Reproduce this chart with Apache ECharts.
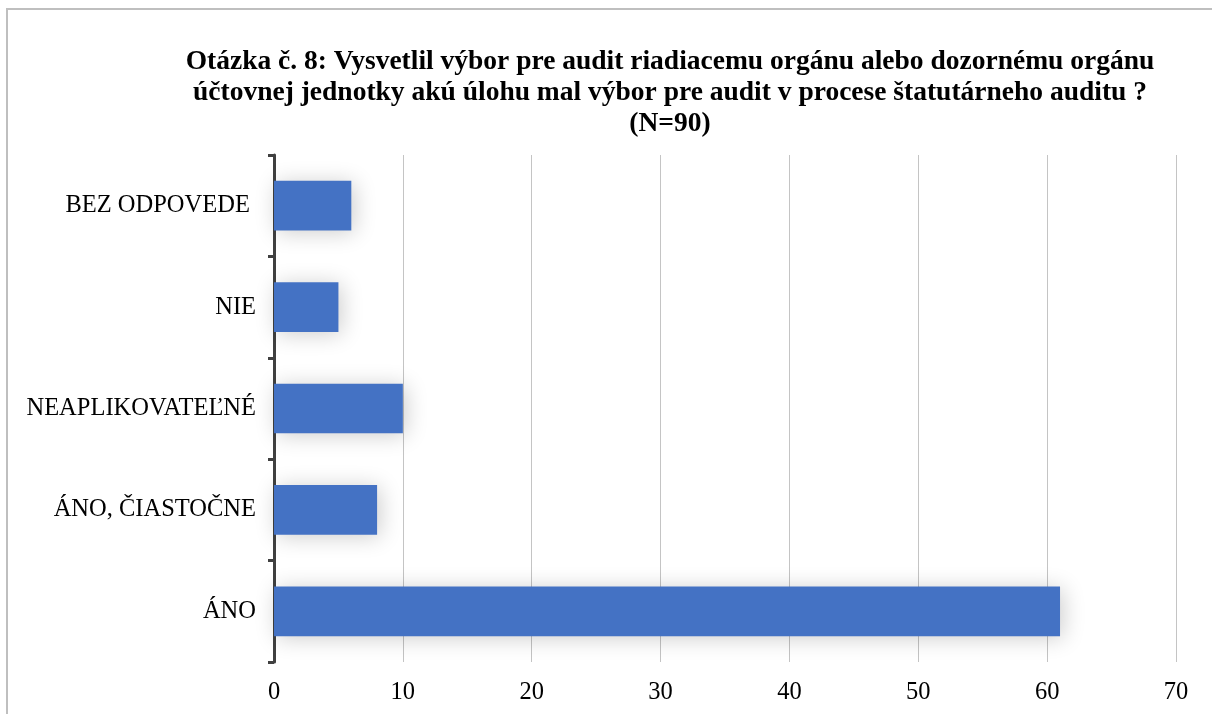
<!DOCTYPE html>
<html>
<head>
<meta charset="utf-8">
<style>
  html, body { margin: 0; padding: 0; background: #fff; }
  #chart { width: 1212px; height: 714px; }
</style>
<script src="https://cdn.jsdelivr.net/npm/echarts@6/dist/echarts.min.js"></script>
</head>
<body>
<div id="chart"></div>
<script>
// Answers to question 8, bottom-to-top order on the category axis
const categories = ['ÁNO', 'ÁNO, ČIASTOČNE', 'NEAPLIKOVATEĽNÉ', 'NIE', 'BEZ ODPOVEDE '];
const counts = [61, 8, 10, 5, 6];
const xTicks = { min: 0, max: 70, interval: 10 };
const titleLines = [
  'Otázka č. 8: Vysvetlil výbor pre audit riadiacemu orgánu alebo dozornému orgánu',
  'účtovnej jednotky akú úlohu mal výbor pre audit v procese štatutárneho auditu ?',
  '(N=90)'
];

const serif = '"Liberation Serif", "Times New Roman", serif';
const chart = echarts.init(document.getElementById('chart'), null, { renderer: 'canvas' });

chart.setOption({
  backgroundColor: '#ffffff',
  animation: false,
  graphic: [
    {
      type: 'rect',
      shape: { x: 7, y: 9, width: 1240, height: 740 },
      style: { fill: 'none', stroke: '#bfbfbf', lineWidth: 2 },
      silent: true
    },
    {
      type: 'text',
      x: 670,
      y: 46,
      style: {
        text: titleLines.join('\n'),
        font: 'bold 27.5px ' + serif,
        fill: '#000',
        textAlign: 'center',
        lineHeight: 31
      }
    }
  ],
  grid: { left: 274, right: 36, top: 155, bottom: 52, containLabel: false },
  xAxis: {
    type: 'value',
    min: xTicks.min,
    max: xTicks.max,
    interval: xTicks.interval,
    axisLine: { show: false },
    axisTick: { show: false },
    axisLabel: { color: '#000', fontFamily: serif, fontSize: 24.5, margin: 18 },
    splitLine: { show: true, lineStyle: { color: '#c4c4c4', width: 1 } }
  },
  yAxis: {
    type: 'category',
    data: categories,
    axisLine: { show: true, lineStyle: { color: '#404040', width: 3 } },
    axisTick: { show: true, length: 6, lineStyle: { color: '#404040', width: 3 } },
    axisLabel: { color: '#000', fontFamily: serif, fontSize: 24.5, margin: 18, padding: [4, 0, 0, 0] }
  },
  series: [{
    type: 'bar',
    data: counts,
    barWidth: '49%',
    itemStyle: {
      color: '#4472c4',
      shadowColor: 'rgba(0,0,0,0.2)',
      shadowBlur: 22,
      shadowOffsetX: 3,
      shadowOffsetY: 2
    }
  }]
});
</script>
</body>
</html>
